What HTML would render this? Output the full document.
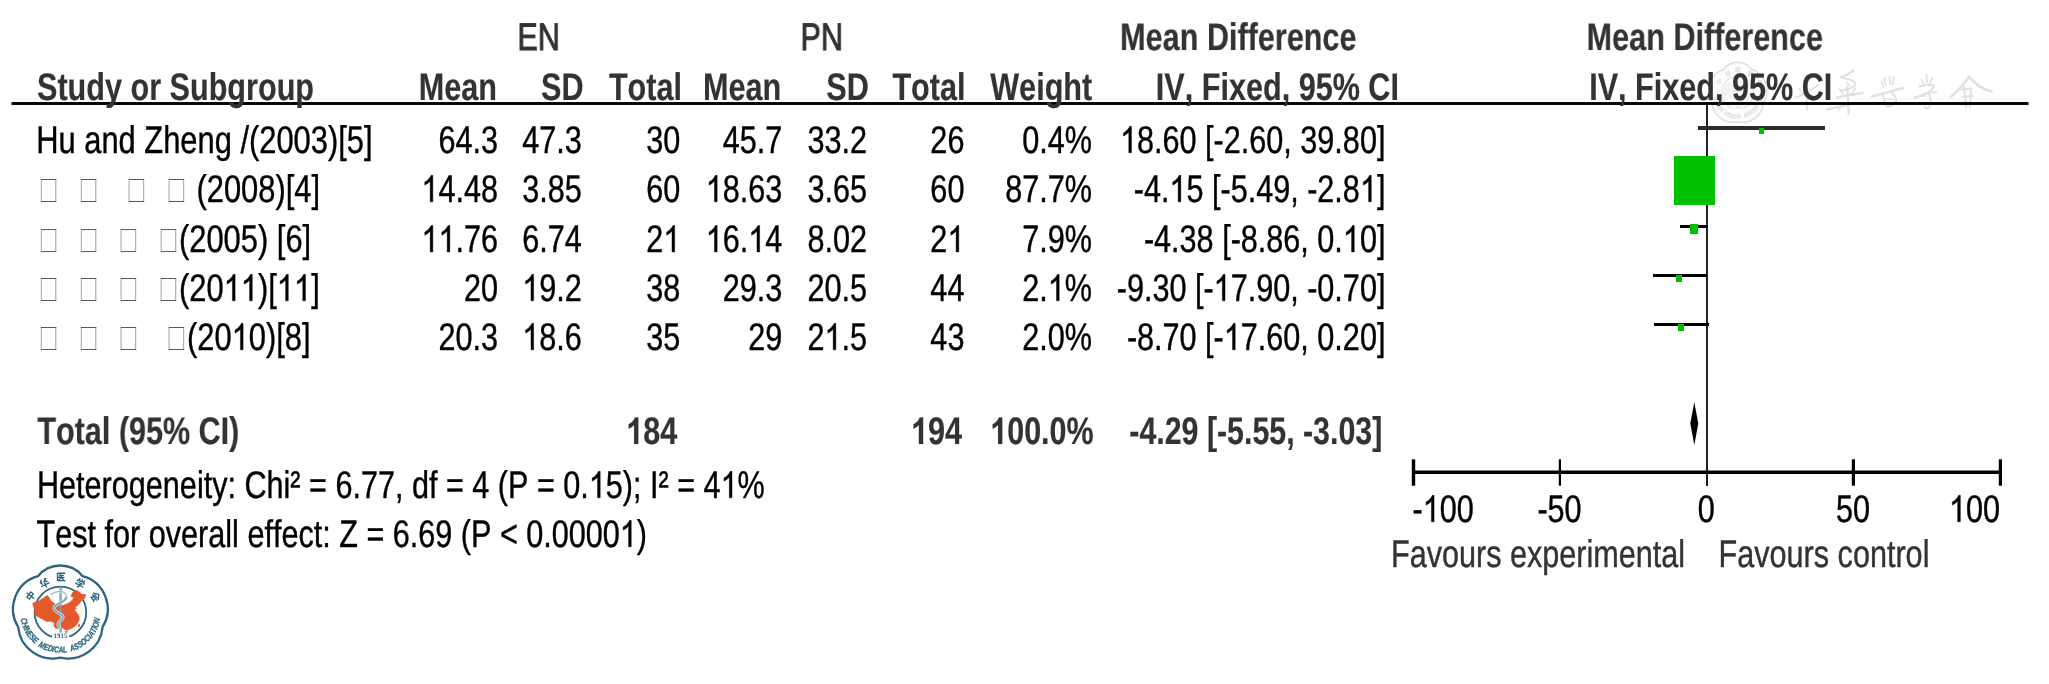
<!DOCTYPE html>
<html><head><meta charset="utf-8"><title>Forest plot</title>
<style>
html,body{margin:0;padding:0;background:#fff;overflow:hidden;}
svg{display:block;will-change:transform;font-family:"Liberation Sans",sans-serif;}
.g1{vector-effect:non-scaling-stroke;stroke-linejoin:round;}
text{white-space:pre;font-kerning:none;font-variant-ligatures:none;vector-effect:non-scaling-stroke;stroke-linejoin:round;text-rendering:geometricPrecision;}
</style></head>
<body>
<svg width="2049" height="684" viewBox="0 0 2049 684">
<rect width="2049" height="684" fill="#fff"/>
<g id="wm">
<g transform="translate(1737.7,92) scale(0.615,0.645) translate(-60.3,-611.5)"><path d="M38,576.2 A28.6,28.6 0 0 1 82.6,576.2 A34,34 0 0 1 102.6,627 A34.5,34.5 0 0 1 60.4,657.6 A34.5,34.5 0 0 1 18.2,627 A34,34 0 0 1 38,576.2 Z" fill="#fdfdfd" stroke="#dcdcdc" stroke-width="2.3" stroke-linejoin="round"/>
<circle cx="60.4" cy="612.4" r="25.8" fill="none" stroke="#dcdcdc" stroke-width="1.75"/>
<polygon points="32.6,603.8 34.0,602.3 38.3,601.4 40.7,599.5 44.0,597.6 47.3,595.2 49.2,597.6 50.7,600.4 53.5,602.8 56.8,605.2 62.1,605.5 65.9,604.2 69.7,602.3 72.5,600.0 73.5,597.6 70.8,596.3 72.1,593.3 74.0,590.9 76.8,590.3 79.2,591.9 82.0,594.3 85.8,594.3 85.1,597.6 82.0,600.4 79.7,603.3 77.3,605.7 74.9,607.6 76.8,608.5 74.4,609.1 75.9,611.8 77.8,613.7 79.2,617.1 79.2,619.9 77.8,622.8 75.9,625.6 72.5,628.0 69.2,629.4 66.8,630.4 64.9,629.4 62.5,628.0 60.2,627.5 57.8,628.7 55.4,628.0 53.5,625.6 54.5,623.7 52.6,621.8 48.8,621.3 46.9,621.8 44.0,619.9 40.2,618.0 36.4,616.1 34.5,613.3 35.0,609.5 33.6,607.1" fill="#f3f3f3" stroke="#f3f3f3" stroke-width="0.5" stroke-linejoin="round"/>
<ellipse cx="66.4" cy="631.9" rx="1.5" ry="1.0" fill="#f3f3f3"/>
<ellipse cx="79.0" cy="625.6" rx="0.9" ry="1.7" fill="#f3f3f3" transform="rotate(18 79.0 625.6)"/>
<line x1="60.6" y1="586.1" x2="60.6" y2="633.2" stroke="#e6e6e6" stroke-width="2.1"/>
<line x1="60.7" y1="587.1" x2="60.7" y2="632.2" stroke="#f8f8f8" stroke-width="0.6" opacity="0.7"/>
<path d="M50.9,594.4 Q53.5,592.8 55.4,592.2 Q57.3,591.6 60.2,591.5 Q63.0,591.4 65.0,593.3 Q67.0,595.2 66.4,597.1 L65.9,599.0" fill="none" stroke="#f8f8f8" stroke-width="2.2" stroke-linecap="round"/>
<path d="M50.9,594.4 Q53.5,592.8 55.4,592.2 Q57.3,591.6 60.2,591.5 Q63.0,591.4 65.0,593.3 Q67.0,595.2 66.4,597.1 L65.9,599.0" fill="none" stroke="#e6e6e6" stroke-width="0.8" stroke-linecap="round" opacity="0.75"/>
<path d="M66.4,597.6 Q64.9,600.4 61.6,602.1 Q58.3,603.8 56.0,605.3 Q53.8,606.8 54.1,608.7 Q54.5,610.6 56.8,611.9 Q59.2,613.3 61.2,614.6 Q63.2,615.9 62.9,617.7 Q62.5,619.4 60.6,620.6 Q58.7,621.8 58.2,623.3 Q57.6,624.7 58.7,625.7 L59.7,626.8" fill="none" stroke="#f8f8f8" stroke-width="3.2" stroke-linecap="round"/>
<path d="M66.4,597.6 Q64.9,600.4 61.6,602.1 Q58.3,603.8 56.0,605.3 Q53.8,606.8 54.1,608.7 Q54.5,610.6 56.8,611.9 Q59.2,613.3 61.2,614.6 Q63.2,615.9 62.9,617.7 Q62.5,619.4 60.6,620.6 Q58.7,621.8 58.2,623.3 Q57.6,624.7 58.7,625.7 L59.7,626.8" fill="none" stroke="#e6e6e6" stroke-width="1.7" stroke-linecap="round"/>
<path d="M66.4,597.6 Q64.9,600.4 61.6,602.1 Q58.3,603.8 56.0,605.3 Q53.8,606.8 54.1,608.7 Q54.5,610.6 56.8,611.9 Q59.2,613.3 61.2,614.6 Q63.2,615.9 62.9,617.7 Q62.5,619.4 60.6,620.6 Q58.7,621.8 58.2,623.3 Q57.6,624.7 58.7,625.7 L59.7,626.8" fill="none" stroke="#f8f8f8" stroke-width="0.5" stroke-linecap="round" opacity="0.8"/>
<rect x="52.0" y="632.6" width="17.2" height="7.4" fill="#fdfdfd"/>
<text x="60.6" y="638.0" text-anchor="middle" font-family="Liberation Serif, serif" font-weight="bold" font-size="7.0" fill="#dcdcdc" style="stroke:none">1915</text>
<path id="warc5904" d="M20.5,618.7 A40.4,40.4 0 0 0 100.3,618.7" fill="none"/>
<text font-family="Liberation Sans, sans-serif" font-weight="bold" font-style="italic" font-size="8.8" fill="#dcdcdc" stroke="#dcdcdc" stroke-width="0.25" textLength="114.2" lengthAdjust="spacingAndGlyphs"><textPath href="#warc5904" textLength="114.2" lengthAdjust="spacingAndGlyphs">CHINESE  MEDICAL  ASSOCIATION</textPath></text>
<g transform="translate(30.3,595.6) rotate(-52) scale(0.92) translate(-5,-5)"><path d="M1.5,3 H8.5 V6.5 H1.5 Z M5,0.5 V9.8" fill="none" stroke="#dcdcdc" stroke-width="1.45" stroke-linecap="round" stroke-linejoin="round"/></g>
<g transform="translate(44.5,583.0) rotate(-27) scale(0.92) translate(-5,-5)"><path d="M3,0.6 L1,3.2 M2.2,2.2 V5.2 M6.8,0.8 V4 Q6.8,4.8 8.6,4.5 M8.6,1.2 L5,3.6 M0.6,7 H9.4 M5,5.2 V9.8" fill="none" stroke="#dcdcdc" stroke-width="1.45" stroke-linecap="round" stroke-linejoin="round"/></g>
<g transform="translate(61.0,576.9) rotate(0) scale(0.92) translate(-5,-5)"><path d="M9,1 H1.2 V9 H9.2 M4.2,2.4 L3.2,4 M3.6,3.4 H7.6 M2.6,5.6 H8.2 M5.4,3.4 V5.6 L3,8 M5.4,5.6 L8,8" fill="none" stroke="#dcdcdc" stroke-width="1.45" stroke-linecap="round" stroke-linejoin="round"/></g>
<g transform="translate(80.2,583.3) rotate(28) scale(0.92) translate(-5,-5)"><path d="M2,0.6 L2.8,2 M5,0.3 L5.4,1.8 M8.2,0.5 L7.2,2 M1,4.2 V2.8 H9 V4.2 M3,4.8 H7 L5.2,6.2 M0.6,7.2 H9.4 M5.2,6.2 V9 Q5.2,9.8 3.8,9.4" fill="none" stroke="#dcdcdc" stroke-width="1.45" stroke-linecap="round" stroke-linejoin="round"/></g>
<g transform="translate(95.3,596.8) rotate(54) scale(0.92) translate(-5,-5)"><path d="M5,0.4 L0.6,4.2 M5,0.4 L9.4,4.2 M3,4.2 H7 M1.4,6 H8.6 M4.6,6 L2.6,9 H7.6 M6.6,7.6 L8,9.6" fill="none" stroke="#dcdcdc" stroke-width="1.45" stroke-linecap="round" stroke-linejoin="round"/></g></g>
<path d="M1817.6,85.3 Q1808.1,92.6 1801.9,95.1 L1795.7,97.6" fill="none" stroke="#e1e1e1" stroke-width="1.9800000000000002" stroke-linecap="round" stroke-linejoin="round"/>
<path d="M1806.5,93.7 L1806.9,109.4" fill="none" stroke="#e1e1e1" stroke-width="1.8" stroke-linecap="round" stroke-linejoin="round"/>
<path d="M1799.1,88.1 L1802.4,93.7" fill="none" stroke="#e1e1e1" stroke-width="1.62" stroke-linecap="round" stroke-linejoin="round"/>
<path d="M1853.5,70.7 Q1847.3,74.6 1844.0,76.0 L1840.6,77.4" fill="none" stroke="#e1e1e1" stroke-width="2.3400000000000003" stroke-linecap="round" stroke-linejoin="round"/>
<path d="M1843.4,78.0 Q1851.8,79.6 1854.4,81.9 Q1856.9,84.1 1853.2,86.7 Q1849.6,89.2 1845.1,89.7 L1840.6,90.3" fill="none" stroke="#e1e1e1" stroke-width="1.9800000000000002" stroke-linecap="round" stroke-linejoin="round"/>
<path d="M1847.3,82.4 L1849.6,86.9" fill="none" stroke="#e1e1e1" stroke-width="1.62" stroke-linecap="round" stroke-linejoin="round"/>
<path d="M1837.2,97.6 Q1849.6,94.8 1856.0,94.0 L1862.5,93.1" fill="none" stroke="#e1e1e1" stroke-width="2.52" stroke-linecap="round" stroke-linejoin="round"/>
<path d="M1827.1,109.4 Q1840.6,106.6 1847.3,104.9 L1854.1,103.2" fill="none" stroke="#e1e1e1" stroke-width="2.52" stroke-linecap="round" stroke-linejoin="round"/>
<path d="M1847.3,86.4 Q1848.0,100.4 1848.4,107.4 L1848.7,114.4" fill="none" stroke="#e1e1e1" stroke-width="2.16" stroke-linecap="round" stroke-linejoin="round"/>
<path d="M1839.5,89.2 L1842.9,93.7" fill="none" stroke="#e1e1e1" stroke-width="1.62" stroke-linecap="round" stroke-linejoin="round"/>
<path d="M1855.2,88.1 L1851.8,93.7" fill="none" stroke="#e1e1e1" stroke-width="1.62" stroke-linecap="round" stroke-linejoin="round"/>
<path d="M1842.9,102.7 L1838.4,110.5" fill="none" stroke="#e1e1e1" stroke-width="1.62" stroke-linecap="round" stroke-linejoin="round"/>
<path d="M1884.4,78.0 L1885.5,85.3" fill="none" stroke="#e1e1e1" stroke-width="1.8" stroke-linecap="round" stroke-linejoin="round"/>
<path d="M1889.4,76.8 L1890.6,84.1" fill="none" stroke="#e1e1e1" stroke-width="1.8" stroke-linecap="round" stroke-linejoin="round"/>
<path d="M1893.9,76.8 L1892.8,84.1" fill="none" stroke="#e1e1e1" stroke-width="1.8" stroke-linecap="round" stroke-linejoin="round"/>
<path d="M1881.6,81.3 L1883.3,86.9" fill="none" stroke="#e1e1e1" stroke-width="1.62" stroke-linecap="round" stroke-linejoin="round"/>
<path d="M1872.0,96.5 Q1887.8,92.0 1895.3,90.0 L1902.9,88.1" fill="none" stroke="#e1e1e1" stroke-width="2.7" stroke-linecap="round" stroke-linejoin="round"/>
<path d="M1882.7,93.7 Q1883.8,100.4 1885.2,103.2 L1886.6,106.0" fill="none" stroke="#e1e1e1" stroke-width="1.9800000000000002" stroke-linecap="round" stroke-linejoin="round"/>
<path d="M1891.1,92.6 Q1896.7,97.0 1896.2,100.4 Q1895.6,103.8 1891.7,105.5 L1887.8,107.1" fill="none" stroke="#e1e1e1" stroke-width="2.16" stroke-linecap="round" stroke-linejoin="round"/>
<path d="M1885.5,98.7 L1893.4,99.3" fill="none" stroke="#e1e1e1" stroke-width="1.62" stroke-linecap="round" stroke-linejoin="round"/>
<path d="M1921.4,79.6 L1923.7,84.1" fill="none" stroke="#e1e1e1" stroke-width="1.8" stroke-linecap="round" stroke-linejoin="round"/>
<path d="M1926.5,75.2 L1927.0,82.4" fill="none" stroke="#e1e1e1" stroke-width="1.8" stroke-linecap="round" stroke-linejoin="round"/>
<path d="M1932.1,78.0 L1929.8,84.1" fill="none" stroke="#e1e1e1" stroke-width="1.8" stroke-linecap="round" stroke-linejoin="round"/>
<path d="M1919.2,86.4 Q1928.2,84.1 1931.8,85.0 Q1935.5,85.8 1932.4,88.9 Q1929.3,92.0 1922.0,95.1 L1914.7,98.2" fill="none" stroke="#e1e1e1" stroke-width="2.16" stroke-linecap="round" stroke-linejoin="round"/>
<path d="M1924.8,94.2 Q1931.5,92.0 1934.1,92.3 L1936.6,92.6" fill="none" stroke="#e1e1e1" stroke-width="1.9800000000000002" stroke-linecap="round" stroke-linejoin="round"/>
<path d="M1929.3,93.7 Q1931.5,102.7 1929.8,106.0 Q1928.2,109.4 1926.5,108.3 L1924.8,107.1" fill="none" stroke="#e1e1e1" stroke-width="2.16" stroke-linecap="round" stroke-linejoin="round"/>
<path d="M1914.1,97.0 L1924.8,95.9" fill="none" stroke="#e1e1e1" stroke-width="1.62" stroke-linecap="round" stroke-linejoin="round"/>
<path d="M1969.1,76.8 Q1960.7,88.1 1955.7,92.6 L1950.6,97.0" fill="none" stroke="#e1e1e1" stroke-width="2.52" stroke-linecap="round" stroke-linejoin="round"/>
<path d="M1969.1,76.8 Q1977.6,86.4 1984.6,88.9 L1991.6,91.4" fill="none" stroke="#e1e1e1" stroke-width="2.7" stroke-linecap="round" stroke-linejoin="round"/>
<path d="M1960.7,89.7 L1970.8,88.6" fill="none" stroke="#e1e1e1" stroke-width="1.8" stroke-linecap="round" stroke-linejoin="round"/>
<path d="M1964.1,86.9 Q1965.2,97.0 1965.8,102.4 L1966.3,107.7" fill="none" stroke="#e1e1e1" stroke-width="2.16" stroke-linecap="round" stroke-linejoin="round"/>
<path d="M1970.8,88.1 Q1970.8,97.0 1970.3,102.1 L1969.7,107.1" fill="none" stroke="#e1e1e1" stroke-width="1.9800000000000002" stroke-linecap="round" stroke-linejoin="round"/>
<path d="M1961.8,97.0 L1973.1,95.9" fill="none" stroke="#e1e1e1" stroke-width="1.62" stroke-linecap="round" stroke-linejoin="round"/>
<path d="M1962.4,104.9 L1971.9,104.3" fill="none" stroke="#e1e1e1" stroke-width="1.62" stroke-linecap="round" stroke-linejoin="round"/>
</g>
<g id="cma-logo">
<path d="M38,576.2 A28.6,28.6 0 0 1 82.6,576.2 A34,34 0 0 1 102.6,627 A34.5,34.5 0 0 1 60.4,657.6 A34.5,34.5 0 0 1 18.2,627 A34,34 0 0 1 38,576.2 Z" fill="#fff" stroke="#2b6580" stroke-width="2.3" stroke-linejoin="round"/>
<circle cx="60.4" cy="612.4" r="25.8" fill="none" stroke="#2b6580" stroke-width="1.75"/>
<polygon points="32.6,603.8 34.0,602.3 38.3,601.4 40.7,599.5 44.0,597.6 47.3,595.2 49.2,597.6 50.7,600.4 53.5,602.8 56.8,605.2 62.1,605.5 65.9,604.2 69.7,602.3 72.5,600.0 73.5,597.6 70.8,596.3 72.1,593.3 74.0,590.9 76.8,590.3 79.2,591.9 82.0,594.3 85.8,594.3 85.1,597.6 82.0,600.4 79.7,603.3 77.3,605.7 74.9,607.6 76.8,608.5 74.4,609.1 75.9,611.8 77.8,613.7 79.2,617.1 79.2,619.9 77.8,622.8 75.9,625.6 72.5,628.0 69.2,629.4 66.8,630.4 64.9,629.4 62.5,628.0 60.2,627.5 57.8,628.7 55.4,628.0 53.5,625.6 54.5,623.7 52.6,621.8 48.8,621.3 46.9,621.8 44.0,619.9 40.2,618.0 36.4,616.1 34.5,613.3 35.0,609.5 33.6,607.1" fill="#e4592b" stroke="#e4592b" stroke-width="0.5" stroke-linejoin="round"/>
<ellipse cx="66.4" cy="631.9" rx="1.5" ry="1.0" fill="#e4592b"/>
<ellipse cx="79.0" cy="625.6" rx="0.9" ry="1.7" fill="#e4592b" transform="rotate(18 79.0 625.6)"/>
<circle cx="74.4" cy="629.9" r="0.55" fill="#e4592b" opacity="0.6"/>
<circle cx="68.9" cy="635.1" r="0.55" fill="#e4592b" opacity="0.6"/>
<circle cx="72.5" cy="640.8" r="0.55" fill="#e4592b" opacity="0.6"/>
<circle cx="74.9" cy="640.1" r="0.55" fill="#e4592b" opacity="0.6"/>
<circle cx="82.0" cy="622.8" r="0.55" fill="#e4592b" opacity="0.6"/>
<line x1="60.6" y1="586.1" x2="60.6" y2="633.2" stroke="#5d8ba3" stroke-width="2.1"/>
<line x1="60.7" y1="587.1" x2="60.7" y2="632.2" stroke="#dfeaf0" stroke-width="0.6" opacity="0.7"/>
<path d="M50.9,594.4 Q53.5,592.8 55.4,592.2 Q57.3,591.6 60.2,591.5 Q63.0,591.4 65.0,593.3 Q67.0,595.2 66.4,597.1 L65.9,599.0" fill="none" stroke="#dfeaf0" stroke-width="2.2" stroke-linecap="round"/>
<path d="M50.9,594.4 Q53.5,592.8 55.4,592.2 Q57.3,591.6 60.2,591.5 Q63.0,591.4 65.0,593.3 Q67.0,595.2 66.4,597.1 L65.9,599.0" fill="none" stroke="#5d8ba3" stroke-width="0.8" stroke-linecap="round" opacity="0.75"/>
<path d="M66.4,597.6 Q64.9,600.4 61.6,602.1 Q58.3,603.8 56.0,605.3 Q53.8,606.8 54.1,608.7 Q54.5,610.6 56.8,611.9 Q59.2,613.3 61.2,614.6 Q63.2,615.9 62.9,617.7 Q62.5,619.4 60.6,620.6 Q58.7,621.8 58.2,623.3 Q57.6,624.7 58.7,625.7 L59.7,626.8" fill="none" stroke="#dfeaf0" stroke-width="3.2" stroke-linecap="round"/>
<path d="M66.4,597.6 Q64.9,600.4 61.6,602.1 Q58.3,603.8 56.0,605.3 Q53.8,606.8 54.1,608.7 Q54.5,610.6 56.8,611.9 Q59.2,613.3 61.2,614.6 Q63.2,615.9 62.9,617.7 Q62.5,619.4 60.6,620.6 Q58.7,621.8 58.2,623.3 Q57.6,624.7 58.7,625.7 L59.7,626.8" fill="none" stroke="#5d8ba3" stroke-width="1.7" stroke-linecap="round"/>
<path d="M66.4,597.6 Q64.9,600.4 61.6,602.1 Q58.3,603.8 56.0,605.3 Q53.8,606.8 54.1,608.7 Q54.5,610.6 56.8,611.9 Q59.2,613.3 61.2,614.6 Q63.2,615.9 62.9,617.7 Q62.5,619.4 60.6,620.6 Q58.7,621.8 58.2,623.3 Q57.6,624.7 58.7,625.7 L59.7,626.8" fill="none" stroke="#dfeaf0" stroke-width="0.5" stroke-linecap="round" opacity="0.8"/>
<rect x="52.0" y="632.6" width="17.2" height="7.4" fill="#fff"/>
<text x="60.6" y="638.0" text-anchor="middle" font-family="Liberation Serif, serif" font-weight="bold" font-size="7.0" fill="#2b6580" style="stroke:none">1915</text>
<path id="arc4713" d="M20.5,618.7 A40.4,40.4 0 0 0 100.3,618.7" fill="none"/>
<text font-family="Liberation Sans, sans-serif" font-weight="bold" font-style="italic" font-size="8.8" fill="#2b6580" stroke="#2b6580" stroke-width="0.25" textLength="114.2" lengthAdjust="spacingAndGlyphs"><textPath href="#arc4713" textLength="114.2" lengthAdjust="spacingAndGlyphs">CHINESE  MEDICAL  ASSOCIATION</textPath></text>
<g transform="translate(30.3,595.6) rotate(-52) scale(0.92) translate(-5,-5)"><path d="M1.5,3 H8.5 V6.5 H1.5 Z M5,0.5 V9.8" fill="none" stroke="#2b6580" stroke-width="1.45" stroke-linecap="round" stroke-linejoin="round"/></g>
<g transform="translate(44.5,583.0) rotate(-27) scale(0.92) translate(-5,-5)"><path d="M3,0.6 L1,3.2 M2.2,2.2 V5.2 M6.8,0.8 V4 Q6.8,4.8 8.6,4.5 M8.6,1.2 L5,3.6 M0.6,7 H9.4 M5,5.2 V9.8" fill="none" stroke="#2b6580" stroke-width="1.45" stroke-linecap="round" stroke-linejoin="round"/></g>
<g transform="translate(61.0,576.9) rotate(0) scale(0.92) translate(-5,-5)"><path d="M9,1 H1.2 V9 H9.2 M4.2,2.4 L3.2,4 M3.6,3.4 H7.6 M2.6,5.6 H8.2 M5.4,3.4 V5.6 L3,8 M5.4,5.6 L8,8" fill="none" stroke="#2b6580" stroke-width="1.45" stroke-linecap="round" stroke-linejoin="round"/></g>
<g transform="translate(80.2,583.3) rotate(28) scale(0.92) translate(-5,-5)"><path d="M2,0.6 L2.8,2 M5,0.3 L5.4,1.8 M8.2,0.5 L7.2,2 M1,4.2 V2.8 H9 V4.2 M3,4.8 H7 L5.2,6.2 M0.6,7.2 H9.4 M5.2,6.2 V9 Q5.2,9.8 3.8,9.4" fill="none" stroke="#2b6580" stroke-width="1.45" stroke-linecap="round" stroke-linejoin="round"/></g>
<g transform="translate(95.3,596.8) rotate(54) scale(0.92) translate(-5,-5)"><path d="M5,0.4 L0.6,4.2 M5,0.4 L9.4,4.2 M3,4.2 H7 M1.4,6 H8.6 M4.6,6 L2.6,9 H7.6 M6.6,7.6 L8,9.6" fill="none" stroke="#2b6580" stroke-width="1.45" stroke-linecap="round" stroke-linejoin="round"/></g>
</g>

<rect x="11.5" y="102.05" width="2017" height="2.9" fill="#000"/>
<rect x="1706" y="105" width="2" height="381" fill="#222"/>
<rect x="1698" y="126" width="127" height="4" fill="#2b2b2b"/>
<rect x="1680" y="225" width="28" height="3" fill="#000"/>
<rect x="1653" y="274" width="53.5" height="3" fill="#000"/>
<rect x="1654" y="323" width="55" height="3" fill="#000"/>
<rect x="1759" y="128" width="5" height="6" fill="#00c000"/>
<rect x="1674" y="156" width="41" height="49" fill="#00c000"/>
<rect x="1690" y="224" width="8" height="10" fill="#00c000"/>
<rect x="1676" y="275" width="6" height="7" fill="#00c000"/>
<rect x="1678" y="324" width="6" height="7" fill="#00c000"/>
<polygon points="1690.3,423.5 1694.3,402.3 1698.3,423.5 1694.3,445" fill="#000"/>
<rect x="1412" y="470.5" width="590" height="3.5" fill="#000"/>
<rect x="1411.8" y="459.3" width="3.4" height="26.4" fill="#000"/>
<rect x="1558.8" y="459.3" width="2.2" height="26.4" fill="#000"/>
<rect x="1851.8" y="459.3" width="3.2" height="26.4" fill="#000"/>
<rect x="1998.8" y="459.3" width="3.2" height="26.4" fill="#000"/>
<g opacity="0.999">
<text transform="translate(538.6,50.05) scale(0.7946,1)" text-anchor="middle" font-size="38.5" fill="#333" stroke="#333" stroke-width="1.0">EN</text>
<text transform="translate(821.7,50.05) scale(0.7946,1)" text-anchor="middle" font-size="38.5" fill="#333" stroke="#333" stroke-width="1.0">PN</text>
<text transform="translate(1238.3,50.05) scale(0.7946,1)" text-anchor="middle" font-size="38.5" font-weight="bold" fill="#333" stroke="#333" stroke-width="0.18">Mean Difference</text>
<text transform="translate(1704.8,50.05) scale(0.7946,1)" text-anchor="middle" font-size="38.5" font-weight="bold" fill="#333" stroke="#333" stroke-width="0.18">Mean Difference</text>
<text transform="translate(37,99.95) scale(0.7946,1)" text-anchor="start" font-size="38.5" font-weight="bold" fill="#333" stroke="#333" stroke-width="0.18">Study or Subgroup</text>
<text transform="translate(497,99.95) scale(0.7946,1)" text-anchor="end" font-size="38.5" font-weight="bold" fill="#333" stroke="#333" stroke-width="0.18">Mean</text>
<text transform="translate(583.5,99.95) scale(0.7946,1)" text-anchor="end" font-size="38.5" font-weight="bold" fill="#333" stroke="#333" stroke-width="0.18">SD</text>
<text transform="translate(682,99.95) scale(0.7946,1)" text-anchor="end" font-size="38.5" font-weight="bold" fill="#333" stroke="#333" stroke-width="0.18">Total</text>
<text transform="translate(781.2,99.95) scale(0.7946,1)" text-anchor="end" font-size="38.5" font-weight="bold" fill="#333" stroke="#333" stroke-width="0.18">Mean</text>
<text transform="translate(868.8,99.95) scale(0.7946,1)" text-anchor="end" font-size="38.5" font-weight="bold" fill="#333" stroke="#333" stroke-width="0.18">SD</text>
<text transform="translate(965.5,99.95) scale(0.7946,1)" text-anchor="end" font-size="38.5" font-weight="bold" fill="#333" stroke="#333" stroke-width="0.18">Total</text>
<text transform="translate(1092.2,99.95) scale(0.7946,1)" text-anchor="end" font-size="38.5" font-weight="bold" fill="#333" stroke="#333" stroke-width="0.18">Weight</text>
<text transform="translate(1277.4,99.95) scale(0.7946,1)" text-anchor="middle" font-size="38.5" font-weight="bold" fill="#333" stroke="#333" stroke-width="0.18">IV, Fixed, 95% CI</text>
<text transform="translate(1710.7,99.95) scale(0.7946,1)" text-anchor="middle" font-size="38.5" font-weight="bold" fill="#333" stroke="#333" stroke-width="0.18">IV, Fixed, 95% CI</text>
<text transform="translate(36.2,152.8) scale(0.8017513999999999,1)" text-anchor="start" font-size="38.5" fill="#000" stroke="#000" stroke-width="0.42">Hu and Zheng /(2003)[5]</text>
<text transform="translate(498.0,152.8) scale(0.7946,1)" text-anchor="end" font-size="38.5" fill="#000" stroke="#000" stroke-width="0.42">64.3</text>
<text transform="translate(581.8,152.8) scale(0.7946,1)" text-anchor="end" font-size="38.5" fill="#000" stroke="#000" stroke-width="0.42">47.3</text>
<text transform="translate(680.3,152.8) scale(0.7946,1)" text-anchor="end" font-size="38.5" fill="#000" stroke="#000" stroke-width="0.42">30</text>
<text transform="translate(782.3,152.8) scale(0.7946,1)" text-anchor="end" font-size="38.5" fill="#000" stroke="#000" stroke-width="0.42">45.7</text>
<text transform="translate(867.0,152.8) scale(0.7946,1)" text-anchor="end" font-size="38.5" fill="#000" stroke="#000" stroke-width="0.42">33.2</text>
<text transform="translate(964.4,152.8) scale(0.7946,1)" text-anchor="end" font-size="38.5" fill="#000" stroke="#000" stroke-width="0.42">26</text>
<text transform="translate(1092.0,152.8) scale(0.7946,1)" text-anchor="end" font-size="38.5" fill="#000" stroke="#000" stroke-width="0.42">0.4%</text>
<path class="g1" transform="translate(1120.06,152.8) scale(0.014938,-0.018799)" d="M763,0 L583,0 L583,1098 Q518,1039 412,979 Q307,920 223,890 L223,1057 Q374,1125 487,1221 Q600,1318 647,1409 L763,1409 Z" fill="#000" stroke="#000" stroke-width="0.42"/>
<text transform="translate(1385.4,152.8) scale(0.7946,1)" text-anchor="end" font-size="38.5" fill="#000" stroke="#000" stroke-width="0.42"> 8.60 [-2.60, 39.80]</text>
<text transform="translate(196.5,201.85) scale(0.8017513999999999,1)" text-anchor="start" font-size="38.5" fill="#000" stroke="#000" stroke-width="0.42">(2008)[4]</text>
<path class="g1" transform="translate(421.45,201.85) scale(0.014938,-0.018799)" d="M763,0 L583,0 L583,1098 Q518,1039 412,979 Q307,920 223,890 L223,1057 Q374,1125 487,1221 Q600,1318 647,1409 L763,1409 Z" fill="#000" stroke="#000" stroke-width="0.42"/>
<text transform="translate(498.0,201.85) scale(0.7946,1)" text-anchor="end" font-size="38.5" fill="#000" stroke="#000" stroke-width="0.42"> 4.48</text>
<text transform="translate(581.8,201.85) scale(0.7946,1)" text-anchor="end" font-size="38.5" fill="#000" stroke="#000" stroke-width="0.42">3.85</text>
<text transform="translate(680.3,201.85) scale(0.7946,1)" text-anchor="end" font-size="38.5" fill="#000" stroke="#000" stroke-width="0.42">60</text>
<path class="g1" transform="translate(705.75,201.85) scale(0.014938,-0.018799)" d="M763,0 L583,0 L583,1098 Q518,1039 412,979 Q307,920 223,890 L223,1057 Q374,1125 487,1221 Q600,1318 647,1409 L763,1409 Z" fill="#000" stroke="#000" stroke-width="0.42"/>
<text transform="translate(782.3,201.85) scale(0.7946,1)" text-anchor="end" font-size="38.5" fill="#000" stroke="#000" stroke-width="0.42"> 8.63</text>
<text transform="translate(867.0,201.85) scale(0.7946,1)" text-anchor="end" font-size="38.5" fill="#000" stroke="#000" stroke-width="0.42">3.65</text>
<text transform="translate(964.4,201.85) scale(0.7946,1)" text-anchor="end" font-size="38.5" fill="#000" stroke="#000" stroke-width="0.42">60</text>
<text transform="translate(1092.0,201.85) scale(0.7946,1)" text-anchor="end" font-size="38.5" fill="#000" stroke="#000" stroke-width="0.42">87.7%</text>
<path class="g1" transform="translate(1169.42,201.85) scale(0.014938,-0.018799)" d="M763,0 L583,0 L583,1098 Q518,1039 412,979 Q307,920 223,890 L223,1057 Q374,1125 487,1221 Q600,1318 647,1409 L763,1409 Z" fill="#000" stroke="#000" stroke-width="0.42"/>
<path class="g1" transform="translate(1359.89,201.85) scale(0.014938,-0.018799)" d="M763,0 L583,0 L583,1098 Q518,1039 412,979 Q307,920 223,890 L223,1057 Q374,1125 487,1221 Q600,1318 647,1409 L763,1409 Z" fill="#000" stroke="#000" stroke-width="0.42"/>
<text transform="translate(1385.4,201.85) scale(0.7946,1)" text-anchor="end" font-size="38.5" fill="#000" stroke="#000" stroke-width="0.42">-4. 5 [-5.49, -2.8 ]</text>
<text transform="translate(179,251.95) scale(0.8017513999999999,1)" text-anchor="start" font-size="38.5" fill="#000" stroke="#000" stroke-width="0.42">(2005) [6]</text>
<path class="g1" transform="translate(421.45,251.95) scale(0.014938,-0.018799)" d="M763,0 L583,0 L583,1098 Q518,1039 412,979 Q307,920 223,890 L223,1057 Q374,1125 487,1221 Q600,1318 647,1409 L763,1409 Z" fill="#000" stroke="#000" stroke-width="0.42"/>
<path class="g1" transform="translate(438.46,251.95) scale(0.014938,-0.018799)" d="M763,0 L583,0 L583,1098 Q518,1039 412,979 Q307,920 223,890 L223,1057 Q374,1125 487,1221 Q600,1318 647,1409 L763,1409 Z" fill="#000" stroke="#000" stroke-width="0.42"/>
<text transform="translate(498.0,251.95) scale(0.7946,1)" text-anchor="end" font-size="38.5" fill="#000" stroke="#000" stroke-width="0.42">  .76</text>
<text transform="translate(581.8,251.95) scale(0.7946,1)" text-anchor="end" font-size="38.5" fill="#000" stroke="#000" stroke-width="0.42">6.74</text>
<path class="g1" transform="translate(663.29,251.95) scale(0.014938,-0.018799)" d="M763,0 L583,0 L583,1098 Q518,1039 412,979 Q307,920 223,890 L223,1057 Q374,1125 487,1221 Q600,1318 647,1409 L763,1409 Z" fill="#000" stroke="#000" stroke-width="0.42"/>
<text transform="translate(680.3,251.95) scale(0.7946,1)" text-anchor="end" font-size="38.5" fill="#000" stroke="#000" stroke-width="0.42">2 </text>
<path class="g1" transform="translate(705.75,251.95) scale(0.014938,-0.018799)" d="M763,0 L583,0 L583,1098 Q518,1039 412,979 Q307,920 223,890 L223,1057 Q374,1125 487,1221 Q600,1318 647,1409 L763,1409 Z" fill="#000" stroke="#000" stroke-width="0.42"/>
<path class="g1" transform="translate(748.27,251.95) scale(0.014938,-0.018799)" d="M763,0 L583,0 L583,1098 Q518,1039 412,979 Q307,920 223,890 L223,1057 Q374,1125 487,1221 Q600,1318 647,1409 L763,1409 Z" fill="#000" stroke="#000" stroke-width="0.42"/>
<text transform="translate(782.3,251.95) scale(0.7946,1)" text-anchor="end" font-size="38.5" fill="#000" stroke="#000" stroke-width="0.42"> 6. 4</text>
<text transform="translate(867.0,251.95) scale(0.7946,1)" text-anchor="end" font-size="38.5" fill="#000" stroke="#000" stroke-width="0.42">8.02</text>
<path class="g1" transform="translate(947.39,251.95) scale(0.014938,-0.018799)" d="M763,0 L583,0 L583,1098 Q518,1039 412,979 Q307,920 223,890 L223,1057 Q374,1125 487,1221 Q600,1318 647,1409 L763,1409 Z" fill="#000" stroke="#000" stroke-width="0.42"/>
<text transform="translate(964.4,251.95) scale(0.7946,1)" text-anchor="end" font-size="38.5" fill="#000" stroke="#000" stroke-width="0.42">2 </text>
<text transform="translate(1092.0,251.95) scale(0.7946,1)" text-anchor="end" font-size="38.5" fill="#000" stroke="#000" stroke-width="0.42">7.9%</text>
<path class="g1" transform="translate(1342.87,251.95) scale(0.014938,-0.018799)" d="M763,0 L583,0 L583,1098 Q518,1039 412,979 Q307,920 223,890 L223,1057 Q374,1125 487,1221 Q600,1318 647,1409 L763,1409 Z" fill="#000" stroke="#000" stroke-width="0.42"/>
<text transform="translate(1385.4,251.95) scale(0.7946,1)" text-anchor="end" font-size="38.5" fill="#000" stroke="#000" stroke-width="0.42">-4.38 [-8.86, 0. 0]</text>
<path class="g1" transform="translate(223.61,300.85) scale(0.015072,-0.018799)" d="M763,0 L583,0 L583,1098 Q518,1039 412,979 Q307,920 223,890 L223,1057 Q374,1125 487,1221 Q600,1318 647,1409 L763,1409 Z" fill="#000" stroke="#000" stroke-width="0.42"/>
<path class="g1" transform="translate(240.78,300.85) scale(0.015072,-0.018799)" d="M763,0 L583,0 L583,1098 Q518,1039 412,979 Q307,920 223,890 L223,1057 Q374,1125 487,1221 Q600,1318 647,1409 L763,1409 Z" fill="#000" stroke="#000" stroke-width="0.42"/>
<path class="g1" transform="translate(276.80,300.85) scale(0.015072,-0.018799)" d="M763,0 L583,0 L583,1098 Q518,1039 412,979 Q307,920 223,890 L223,1057 Q374,1125 487,1221 Q600,1318 647,1409 L763,1409 Z" fill="#000" stroke="#000" stroke-width="0.42"/>
<path class="g1" transform="translate(293.97,300.85) scale(0.015072,-0.018799)" d="M763,0 L583,0 L583,1098 Q518,1039 412,979 Q307,920 223,890 L223,1057 Q374,1125 487,1221 Q600,1318 647,1409 L763,1409 Z" fill="#000" stroke="#000" stroke-width="0.42"/>
<text transform="translate(179,300.85) scale(0.8017513999999999,1)" text-anchor="start" font-size="38.5" fill="#000" stroke="#000" stroke-width="0.42">(20  )[  ]</text>
<text transform="translate(498.0,300.85) scale(0.7946,1)" text-anchor="end" font-size="38.5" fill="#000" stroke="#000" stroke-width="0.42">20</text>
<path class="g1" transform="translate(522.26,300.85) scale(0.014938,-0.018799)" d="M763,0 L583,0 L583,1098 Q518,1039 412,979 Q307,920 223,890 L223,1057 Q374,1125 487,1221 Q600,1318 647,1409 L763,1409 Z" fill="#000" stroke="#000" stroke-width="0.42"/>
<text transform="translate(581.8,300.85) scale(0.7946,1)" text-anchor="end" font-size="38.5" fill="#000" stroke="#000" stroke-width="0.42"> 9.2</text>
<text transform="translate(680.3,300.85) scale(0.7946,1)" text-anchor="end" font-size="38.5" fill="#000" stroke="#000" stroke-width="0.42">38</text>
<text transform="translate(782.3,300.85) scale(0.7946,1)" text-anchor="end" font-size="38.5" fill="#000" stroke="#000" stroke-width="0.42">29.3</text>
<text transform="translate(867.0,300.85) scale(0.7946,1)" text-anchor="end" font-size="38.5" fill="#000" stroke="#000" stroke-width="0.42">20.5</text>
<text transform="translate(964.4,300.85) scale(0.7946,1)" text-anchor="end" font-size="38.5" fill="#000" stroke="#000" stroke-width="0.42">44</text>
<path class="g1" transform="translate(1047.78,300.85) scale(0.014938,-0.018799)" d="M763,0 L583,0 L583,1098 Q518,1039 412,979 Q307,920 223,890 L223,1057 Q374,1125 487,1221 Q600,1318 647,1409 L763,1409 Z" fill="#000" stroke="#000" stroke-width="0.42"/>
<text transform="translate(1092.0,300.85) scale(0.7946,1)" text-anchor="end" font-size="38.5" fill="#000" stroke="#000" stroke-width="0.42">2. %</text>
<path class="g1" transform="translate(1213.62,300.85) scale(0.014938,-0.018799)" d="M763,0 L583,0 L583,1098 Q518,1039 412,979 Q307,920 223,890 L223,1057 Q374,1125 487,1221 Q600,1318 647,1409 L763,1409 Z" fill="#000" stroke="#000" stroke-width="0.42"/>
<text transform="translate(1385.4,300.85) scale(0.7946,1)" text-anchor="end" font-size="38.5" fill="#000" stroke="#000" stroke-width="0.42">-9.30 [- 7.90, -0.70]</text>
<path class="g1" transform="translate(231.61,349.85) scale(0.015072,-0.018799)" d="M763,0 L583,0 L583,1098 Q518,1039 412,979 Q307,920 223,890 L223,1057 Q374,1125 487,1221 Q600,1318 647,1409 L763,1409 Z" fill="#000" stroke="#000" stroke-width="0.42"/>
<text transform="translate(187,349.85) scale(0.8017513999999999,1)" text-anchor="start" font-size="38.5" fill="#000" stroke="#000" stroke-width="0.42">(20 0)[8]</text>
<text transform="translate(498.0,349.85) scale(0.7946,1)" text-anchor="end" font-size="38.5" fill="#000" stroke="#000" stroke-width="0.42">20.3</text>
<path class="g1" transform="translate(522.26,349.85) scale(0.014938,-0.018799)" d="M763,0 L583,0 L583,1098 Q518,1039 412,979 Q307,920 223,890 L223,1057 Q374,1125 487,1221 Q600,1318 647,1409 L763,1409 Z" fill="#000" stroke="#000" stroke-width="0.42"/>
<text transform="translate(581.8,349.85) scale(0.7946,1)" text-anchor="end" font-size="38.5" fill="#000" stroke="#000" stroke-width="0.42"> 8.6</text>
<text transform="translate(680.3,349.85) scale(0.7946,1)" text-anchor="end" font-size="38.5" fill="#000" stroke="#000" stroke-width="0.42">35</text>
<text transform="translate(782.3,349.85) scale(0.7946,1)" text-anchor="end" font-size="38.5" fill="#000" stroke="#000" stroke-width="0.42">29</text>
<path class="g1" transform="translate(824.47,349.85) scale(0.014938,-0.018799)" d="M763,0 L583,0 L583,1098 Q518,1039 412,979 Q307,920 223,890 L223,1057 Q374,1125 487,1221 Q600,1318 647,1409 L763,1409 Z" fill="#000" stroke="#000" stroke-width="0.42"/>
<text transform="translate(867.0,349.85) scale(0.7946,1)" text-anchor="end" font-size="38.5" fill="#000" stroke="#000" stroke-width="0.42">2 .5</text>
<text transform="translate(964.4,349.85) scale(0.7946,1)" text-anchor="end" font-size="38.5" fill="#000" stroke="#000" stroke-width="0.42">43</text>
<text transform="translate(1092.0,349.85) scale(0.7946,1)" text-anchor="end" font-size="38.5" fill="#000" stroke="#000" stroke-width="0.42">2.0%</text>
<path class="g1" transform="translate(1223.81,349.85) scale(0.014938,-0.018799)" d="M763,0 L583,0 L583,1098 Q518,1039 412,979 Q307,920 223,890 L223,1057 Q374,1125 487,1221 Q600,1318 647,1409 L763,1409 Z" fill="#000" stroke="#000" stroke-width="0.42"/>
<text transform="translate(1385.4,349.85) scale(0.7946,1)" text-anchor="end" font-size="38.5" fill="#000" stroke="#000" stroke-width="0.42">-8.70 [- 7.60, 0.20]</text>
<g><rect x="40.8" y="179.0" width="15.600000000000001" height="1" fill="#5a5a5a"/><rect x="40.8" y="201.0" width="15.600000000000001" height="1" fill="#5a5a5a"/><rect x="40.8" y="180.0" width="0.9" height="21.0" fill="#9a9a9a"/><rect x="55.1" y="180.0" width="1.3" height="21.0" fill="#b4b4b4"/></g>
<g><rect x="80.8" y="179.0" width="15.599999999999994" height="1" fill="#5a5a5a"/><rect x="80.8" y="201.0" width="15.599999999999994" height="1" fill="#5a5a5a"/><rect x="80.8" y="180.0" width="0.9" height="21.0" fill="#9a9a9a"/><rect x="95.1" y="180.0" width="1.3" height="21.0" fill="#b4b4b4"/></g>
<g><rect x="128.60000000000002" y="179.0" width="15.599999999999994" height="1" fill="#5a5a5a"/><rect x="128.60000000000002" y="201.0" width="15.599999999999994" height="1" fill="#5a5a5a"/><rect x="128.60000000000002" y="180.0" width="0.9" height="21.0" fill="#9a9a9a"/><rect x="142.9" y="180.0" width="1.3" height="21.0" fill="#b4b4b4"/></g>
<g><rect x="168.60000000000002" y="179.0" width="15.599999999999994" height="1" fill="#5a5a5a"/><rect x="168.60000000000002" y="201.0" width="15.599999999999994" height="1" fill="#5a5a5a"/><rect x="168.60000000000002" y="180.0" width="0.9" height="21.0" fill="#9a9a9a"/><rect x="182.9" y="180.0" width="1.3" height="21.0" fill="#b4b4b4"/></g>
<g><rect x="40.8" y="229.04999999999998" width="15.600000000000001" height="1" fill="#5a5a5a"/><rect x="40.8" y="251.04999999999998" width="15.600000000000001" height="1" fill="#5a5a5a"/><rect x="40.8" y="230.04999999999998" width="0.9" height="21.0" fill="#9a9a9a"/><rect x="55.1" y="230.04999999999998" width="1.3" height="21.0" fill="#b4b4b4"/></g>
<g><rect x="80.8" y="229.04999999999998" width="15.599999999999994" height="1" fill="#5a5a5a"/><rect x="80.8" y="251.04999999999998" width="15.599999999999994" height="1" fill="#5a5a5a"/><rect x="80.8" y="230.04999999999998" width="0.9" height="21.0" fill="#9a9a9a"/><rect x="95.1" y="230.04999999999998" width="1.3" height="21.0" fill="#b4b4b4"/></g>
<g><rect x="120.6" y="229.04999999999998" width="15.599999999999994" height="1" fill="#5a5a5a"/><rect x="120.6" y="251.04999999999998" width="15.599999999999994" height="1" fill="#5a5a5a"/><rect x="120.6" y="230.04999999999998" width="0.9" height="21.0" fill="#9a9a9a"/><rect x="134.89999999999998" y="230.04999999999998" width="1.3" height="21.0" fill="#b4b4b4"/></g>
<g><rect x="160.70000000000002" y="229.04999999999998" width="15.599999999999994" height="1" fill="#5a5a5a"/><rect x="160.70000000000002" y="251.04999999999998" width="15.599999999999994" height="1" fill="#5a5a5a"/><rect x="160.70000000000002" y="230.04999999999998" width="0.9" height="21.0" fill="#9a9a9a"/><rect x="175.0" y="230.04999999999998" width="1.3" height="21.0" fill="#b4b4b4"/></g>
<g><rect x="40.8" y="278.0" width="15.600000000000001" height="1" fill="#5a5a5a"/><rect x="40.8" y="300.0" width="15.600000000000001" height="1" fill="#5a5a5a"/><rect x="40.8" y="279.0" width="0.9" height="21.0" fill="#9a9a9a"/><rect x="55.1" y="279.0" width="1.3" height="21.0" fill="#b4b4b4"/></g>
<g><rect x="80.8" y="278.0" width="15.599999999999994" height="1" fill="#5a5a5a"/><rect x="80.8" y="300.0" width="15.599999999999994" height="1" fill="#5a5a5a"/><rect x="80.8" y="279.0" width="0.9" height="21.0" fill="#9a9a9a"/><rect x="95.1" y="279.0" width="1.3" height="21.0" fill="#b4b4b4"/></g>
<g><rect x="120.6" y="278.0" width="15.599999999999994" height="1" fill="#5a5a5a"/><rect x="120.6" y="300.0" width="15.599999999999994" height="1" fill="#5a5a5a"/><rect x="120.6" y="279.0" width="0.9" height="21.0" fill="#9a9a9a"/><rect x="134.89999999999998" y="279.0" width="1.3" height="21.0" fill="#b4b4b4"/></g>
<g><rect x="160.70000000000002" y="278.0" width="15.599999999999994" height="1" fill="#5a5a5a"/><rect x="160.70000000000002" y="300.0" width="15.599999999999994" height="1" fill="#5a5a5a"/><rect x="160.70000000000002" y="279.0" width="0.9" height="21.0" fill="#9a9a9a"/><rect x="175.0" y="279.0" width="1.3" height="21.0" fill="#b4b4b4"/></g>
<g><rect x="40.8" y="327.0" width="15.600000000000001" height="1" fill="#5a5a5a"/><rect x="40.8" y="349.0" width="15.600000000000001" height="1" fill="#5a5a5a"/><rect x="40.8" y="328.0" width="0.9" height="21.0" fill="#9a9a9a"/><rect x="55.1" y="328.0" width="1.3" height="21.0" fill="#b4b4b4"/></g>
<g><rect x="80.8" y="327.0" width="15.599999999999994" height="1" fill="#5a5a5a"/><rect x="80.8" y="349.0" width="15.599999999999994" height="1" fill="#5a5a5a"/><rect x="80.8" y="328.0" width="0.9" height="21.0" fill="#9a9a9a"/><rect x="95.1" y="328.0" width="1.3" height="21.0" fill="#b4b4b4"/></g>
<g><rect x="120.6" y="327.0" width="15.599999999999994" height="1" fill="#5a5a5a"/><rect x="120.6" y="349.0" width="15.599999999999994" height="1" fill="#5a5a5a"/><rect x="120.6" y="328.0" width="0.9" height="21.0" fill="#9a9a9a"/><rect x="134.89999999999998" y="328.0" width="1.3" height="21.0" fill="#b4b4b4"/></g>
<g><rect x="168.60000000000002" y="327.0" width="15.599999999999994" height="1" fill="#5a5a5a"/><rect x="168.60000000000002" y="349.0" width="15.599999999999994" height="1" fill="#5a5a5a"/><rect x="168.60000000000002" y="328.0" width="0.9" height="21.0" fill="#9a9a9a"/><rect x="182.9" y="328.0" width="1.3" height="21.0" fill="#b4b4b4"/></g>
<text transform="translate(37.4,443.95) scale(0.7930108,1)" text-anchor="start" font-size="38.5" font-weight="bold" fill="#333" stroke="#333" stroke-width="0.18">Total (95% CI)</text>
<path class="g1" transform="translate(626.26,443.95) scale(0.014938,-0.018799)" d="M806,0 L525,0 L525,1014 Q371,876 162,810 L162,1054 Q272,1088 401,1184 Q530,1281 578,1409 L806,1409 Z" fill="#333" stroke="#333" stroke-width="0.18"/>
<text transform="translate(677.3,443.95) scale(0.7946,1)" text-anchor="end" font-size="38.5" font-weight="bold" fill="#333" stroke="#333" stroke-width="0.18"> 84</text>
<path class="g1" transform="translate(911.06,443.95) scale(0.014938,-0.018799)" d="M806,0 L525,0 L525,1014 Q371,876 162,810 L162,1054 Q272,1088 401,1184 Q530,1281 578,1409 L806,1409 Z" fill="#333" stroke="#333" stroke-width="0.18"/>
<text transform="translate(962.1,443.95) scale(0.7946,1)" text-anchor="end" font-size="38.5" font-weight="bold" fill="#333" stroke="#333" stroke-width="0.18"> 94</text>
<path class="g1" transform="translate(990.26,443.95) scale(0.014878,-0.018799)" d="M806,0 L525,0 L525,1014 Q371,876 162,810 L162,1054 Q272,1088 401,1184 Q530,1281 578,1409 L806,1409 Z" fill="#333" stroke="#333" stroke-width="0.18"/>
<text transform="translate(1093.6,443.95) scale(0.7914216,1)" text-anchor="end" font-size="38.5" font-weight="bold" fill="#333" stroke="#333" stroke-width="0.18"> 00.0%</text>
<text transform="translate(1382.3,443.95) scale(0.7882431999999999,1)" text-anchor="end" font-size="38.5" font-weight="bold" fill="#333" stroke="#333" stroke-width="0.18">-4.29 [-5.55, -3.03]</text>
<path class="g1" transform="translate(588.82,497.85) scale(0.014938,-0.018799)" d="M763,0 L583,0 L583,1098 Q518,1039 412,979 Q307,920 223,890 L223,1057 Q374,1125 487,1221 Q600,1318 647,1409 L763,1409 Z" fill="#000" stroke="#000" stroke-width="0.42"/>
<path class="g1" transform="translate(720.60,497.85) scale(0.014938,-0.018799)" d="M763,0 L583,0 L583,1098 Q518,1039 412,979 Q307,920 223,890 L223,1057 Q374,1125 487,1221 Q600,1318 647,1409 L763,1409 Z" fill="#000" stroke="#000" stroke-width="0.42"/>
<text transform="translate(37,497.85) scale(0.7946,1)" text-anchor="start" font-size="38.5" fill="#000" stroke="#000" stroke-width="0.42">Heterogeneity: Chi² = 6.77, df = 4 (P = 0. 5); I² = 4 %</text>
<path class="g1" transform="translate(619.85,546.85) scale(0.014938,-0.018799)" d="M763,0 L583,0 L583,1098 Q518,1039 412,979 Q307,920 223,890 L223,1057 Q374,1125 487,1221 Q600,1318 647,1409 L763,1409 Z" fill="#000" stroke="#000" stroke-width="0.42"/>
<text transform="translate(36.6,546.85) scale(0.7946,1)" text-anchor="start" font-size="38.5" fill="#000" stroke="#000" stroke-width="0.42">Test for overall effect: Z = 6.69 (P &lt; 0.0000 )</text>
<path class="g1" transform="translate(1422.69,521.85) scale(0.014938,-0.018799)" d="M763,0 L583,0 L583,1098 Q518,1039 412,979 Q307,920 223,890 L223,1057 Q374,1125 487,1221 Q600,1318 647,1409 L763,1409 Z" fill="#000" stroke="#000" stroke-width="0.42"/>
<text transform="translate(1412.5,521.85) scale(0.7946,1)" text-anchor="start" font-size="38.5" fill="#000" stroke="#000" stroke-width="0.42">- 00</text>
<text transform="translate(1559.5,521.85) scale(0.7946,1)" text-anchor="middle" font-size="38.5" fill="#000" stroke="#000" stroke-width="0.42">-50</text>
<text transform="translate(1706.3,521.85) scale(0.7946,1)" text-anchor="middle" font-size="38.5" fill="#000" stroke="#000" stroke-width="0.42">0</text>
<text transform="translate(1853,521.85) scale(0.7946,1)" text-anchor="middle" font-size="38.5" fill="#000" stroke="#000" stroke-width="0.42">50</text>
<path class="g1" transform="translate(1948.96,521.85) scale(0.014938,-0.018799)" d="M763,0 L583,0 L583,1098 Q518,1039 412,979 Q307,920 223,890 L223,1057 Q374,1125 487,1221 Q600,1318 647,1409 L763,1409 Z" fill="#000" stroke="#000" stroke-width="0.42"/>
<text transform="translate(2000.0,521.85) scale(0.7946,1)" text-anchor="end" font-size="38.5" fill="#000" stroke="#000" stroke-width="0.42"> 00</text>
<text transform="translate(1391,566.85) scale(0.7946,1)" text-anchor="start" font-size="38.5" fill="#333" stroke="#333" stroke-width="0.42">Favours experimental</text>
<text transform="translate(1718.6,566.85) scale(0.7946,1)" text-anchor="start" font-size="38.5" fill="#333" stroke="#333" stroke-width="0.42">Favours control</text>
</g>
</svg>
</body></html>
